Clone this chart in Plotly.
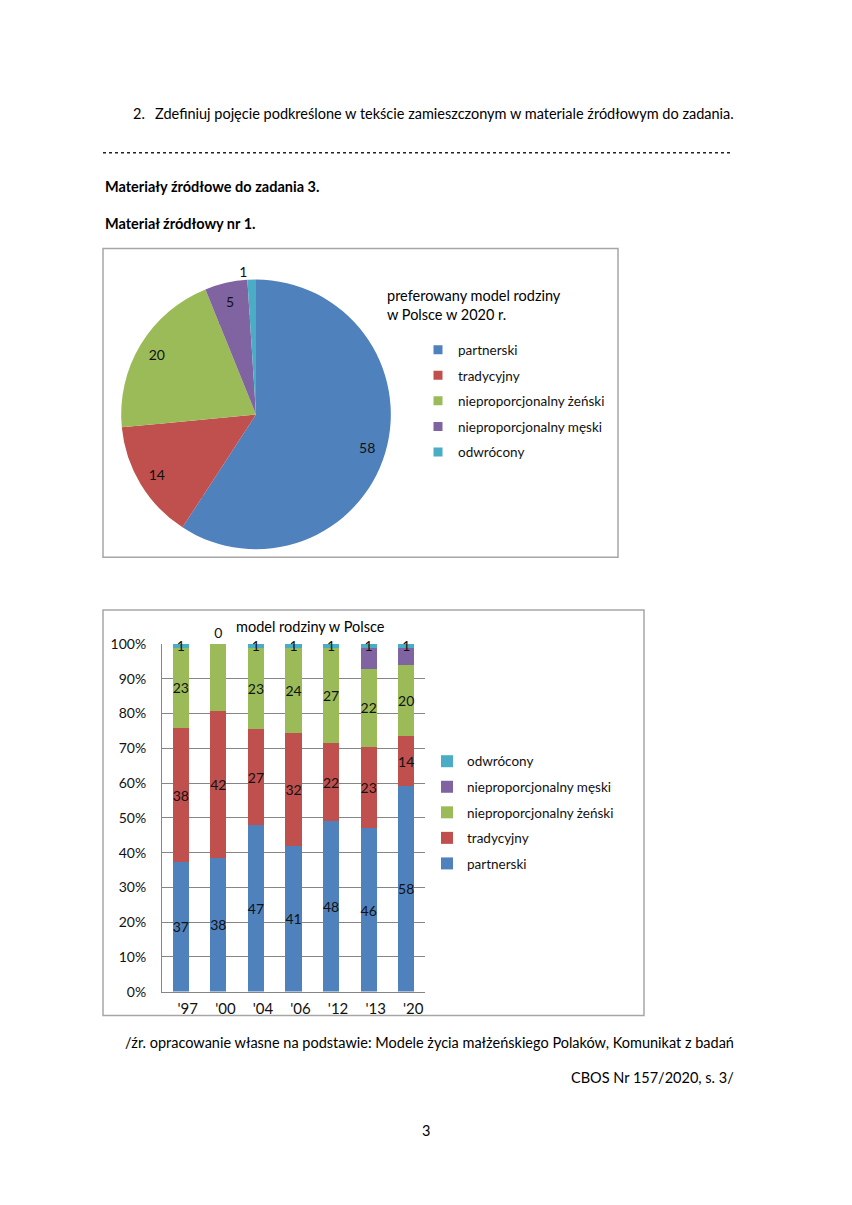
import plotly.graph_objects as go

# page is photographed in an 852x1205 window; the html body has an 8px margin
PAGE_W, PAGE_H, M = 852, 1205, 8
W, H = PAGE_W - 2 * M, PAGE_H - 2 * M
# small vertical correction measured from the rendered page
VOFF, VSCALE = 7.2, 0.987
def X(px): return (px - M) / W
def Y(py): return 1 - ((py - VOFF) / VSCALE - M) / H

FONT = "Lato"

# ---- data ----
pie_labels = ["partnerski", "tradycyjny", "nieproporcjonalny żeński",
              "nieproporcjonalny męski", "odwrócony"]
pie_values = [58, 14, 20, 5, 1]
colors = ["#4F81BD", "#C0504D", "#9BBB59", "#8064A2", "#4BACC6"]

years = ["'97", "'00", "'04", "'06", "'12", "'13", "'20"]
partnerski = [37, 38, 47, 41, 48, 46, 58]
tradycyjny = [38, 42, 27, 32, 22, 23, 14]
zenski = [23, 19, 23, 24, 27, 22, 20]
meski = [0, 0, 0, 0, 0, 6, 5]
odwrocony = [1, 0, 1, 1, 1, 1, 1]

series = [
    ("partnerski", partnerski, colors[0], True),
    ("tradycyjny", tradycyjny, colors[1], True),
    ("nieproporcjonalny żeński", zenski, colors[2], True),
    ("nieproporcjonalny męski", meski, colors[3], False),
    ("odwrócony", odwrocony, colors[4], True),
]

fig = go.Figure()

# ---- pie (outer ring carries the labels near the rim, inner disc fills the centre) ----
PCX, PCY, PR, HOLE = 256, 413, 135, 0.72
fig.add_trace(go.Pie(
    labels=pie_labels, values=pie_values, sort=False, direction="clockwise",
    rotation=0, hole=HOLE, marker=dict(colors=colors, line=dict(width=0)),
    texttemplate="%{value}", textinfo="text",
    textposition=["inside", "inside", "inside", "inside", "outside"],
    insidetextorientation="horizontal",
    textfont=dict(family=FONT, size=14, color="#111"),
    domain=dict(x=[X(PCX - PR), X(PCX + PR)], y=[Y(PCY + PR), Y(PCY - PR)]),
    showlegend=False, hoverinfo="label+value",
))
RI = PR * HOLE + 2
fig.add_trace(go.Pie(
    labels=pie_labels, values=pie_values, sort=False, direction="clockwise",
    rotation=0, marker=dict(colors=colors, line=dict(width=0)),
    textinfo="none",
    domain=dict(x=[X(PCX - RI), X(PCX + RI)], y=[Y(PCY + RI), Y(PCY - RI)]),
    showlegend=False, hoverinfo="label+value",
))
# pie legend entries (one per slice)
for lab, col in zip(pie_labels, colors):
    fig.add_trace(go.Scatter(
        x=[None], y=[None], mode="markers", name=lab, legend="legend",
        legendgroup="p_" + lab,
        marker=dict(symbol="square", size=9, color=col),
    ))

# ---- stacked bars ----
n = len(series)
for i, (name, vals, col, show_text) in enumerate(series):
    if name == "odwrócony":
        tpos = ["inside" if v > 0 else "outside" for v in vals]
    else:
        tpos = "inside"
    fig.add_trace(go.Bar(
        x=years, y=vals, name=name, marker=dict(color=col, line=dict(width=0)),
        text=[str(v) for v in vals] if show_text else None,
        textposition=tpos, constraintext="none", insidetextanchor="middle",
        textangle=0,
        textfont=dict(family=FONT, size=14, color="#111"),
        legend="legend2", legendgroup="b_" + name, legendrank=n - i,
        cliponaxis=False,
    ))

fig.update_layout(
    width=W, height=H, margin=dict(l=0, r=0, t=0, b=0),
    paper_bgcolor="white", plot_bgcolor="rgba(0,0,0,0)",
    barmode="stack", barnorm="percent", bargap=0.57,
    font=dict(family=FONT, size=13, color="#111"),
    xaxis=dict(type="category", domain=[X(162), X(425)], range=[-0.5, 6.5],
               showgrid=False, showline=True,
               linecolor="#868686", linewidth=1, ticks="",
               tickfont=dict(size=15), ticklabelstandoff=3, ticklabelshift=7,
               fixedrange=True),
    yaxis=dict(domain=[Y(991), Y(643)], range=[0, 100], dtick=10,
               ticksuffix="%", showgrid=True, gridcolor="#868686", gridwidth=1,
               zeroline=False, showline=True, linecolor="#868686",
               tickfont=dict(size=14), ticklabelstandoff=12, fixedrange=True),
    legend=dict(x=X(418), xanchor="left", y=Y(333), yanchor="top",
                font=dict(family=FONT, size=13.5), tracegroupgap=5,
                bgcolor="rgba(0,0,0,0)"),
    legend2=dict(x=X(427), xanchor="left", y=Y(745), yanchor="top",
                 font=dict(family=FONT, size=13.5), tracegroupgap=5,
                 traceorder="grouped", bgcolor="rgba(0,0,0,0)"),
    showlegend=True,
)

shapes = [
    dict(type="rect", xref="paper", yref="paper", x0=X(103), x1=X(618),
         y0=Y(556), y1=Y(247), line=dict(color="#a6a6a6", width=1.5)),
    dict(type="rect", xref="paper", yref="paper", x0=X(103), x1=X(644),
         y0=Y(1015), y1=Y(609), line=dict(color="#a6a6a6", width=1.5)),
    dict(type="line", xref="paper", yref="paper", x0=X(103), x1=X(732),
         y0=Y(151), y1=Y(151), line=dict(color="#222", width=1.3, dash="dot")),
]
fig.update_layout(shapes=shapes)

def ann(text, x, y, xanchor="left", size=14.5, align="left"):
    return dict(text=text, x=X(x), y=Y(y), xref="paper", yref="paper",
                xanchor=xanchor, yanchor="middle", showarrow=False,
                align=align, font=dict(family=FONT, size=size, color="#000"))

anns = [
    ann("2.", 131, 112),
    ann("Zdefiniuj pojęcie podkreślone w tekście zamieszczonym w materiale źródłowym do zadania.", 153, 112),
    ann("<b>Materiały źródłowe do zadania 3.</b>", 103, 185),
    ann("<b>Materiał źródłowy nr 1.</b>", 103, 222),
    ann("preferowany model rodziny<br>w Polsce w 2020 r.", 385, 303, size=14.5),
    ann("model rodziny w Polsce", 310, 625, xanchor="center", size=14.5),
    ann("/źr. opracowanie własne na podstawie: Modele życia małżeńskiego Polaków, Komunikat z badań",
        736, 1042, xanchor="right"),
    ann("CBOS Nr 157/2020, s. 3/", 736, 1077, xanchor="right"),
    ann("3", 426, 1130, xanchor="center"),
]
fig.update_layout(annotations=anns)

fig.write_html("out.html")
